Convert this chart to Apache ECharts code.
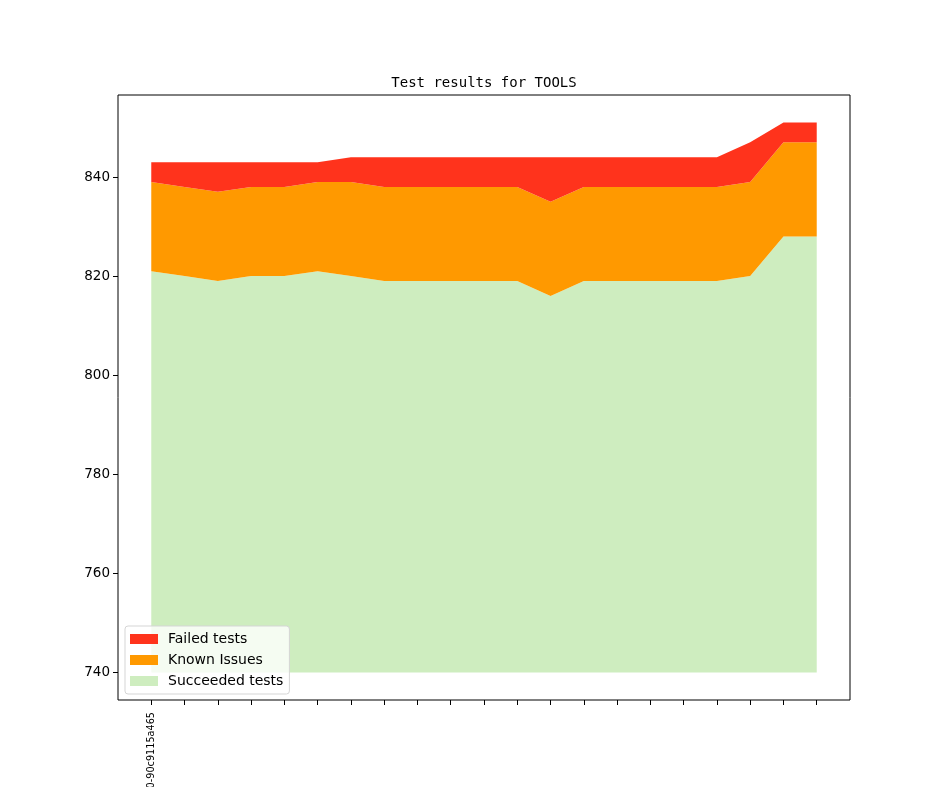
<!DOCTYPE html>
<html>
<head>
<meta charset="utf-8">
<title>Test results for TOOLS</title>
<script src="https://cdn.jsdelivr.net/npm/echarts@6/dist/echarts.min.js"></script>
<style>
html,body{margin:0;padding:0;background:#fff;}
#chart{width:944px;height:787px;}
</style>
</head>
<body>
<div id="chart"></div>
<script>
//数据
var builds = ['2017.10.10-90c9115a465','','','','','','','','','','','','','','','','','','','',''];
var succeeded = [821,820,819,820,820,821,820,819,819,819,819,819,816,819,819,819,819,819,820,828,828];
var known = [18,18,18,18,18,18,19,19,19,19,19,19,19,19,19,19,19,19,19,19,19];
var failed = [4,5,6,5,5,4,5,6,6,6,6,6,9,6,6,6,6,6,8,4,4];
var yTicks = [740,760,780,800,820,840];
var areaBase = 740;

//两端各留一个空位,相当于matplotlib的边距
var cats = ['<pad0>'].concat(builds.map(function(b,i){return i+':'+b;})).concat(['<pad1>']);
function pad(arr){
	return ['-'].concat(arr).concat(['-']);
}
function isPad(idx){
	return idx==0 || idx==cats.length-1;
}

//一层面积
function layer(name,data,color,extra){
	var s = {
		name:name, type:'line', stack:'total', data:pad(data),
		symbol:'none', lineStyle:{width:0}, color:color,
		areaStyle:{color:color,opacity:1}
	};
	if(extra){ s.areaStyle.origin = extra; }
	return s;
}

var chart = echarts.init(document.getElementById('chart'));
var option = {
	animation:false,
	title:{
		text:'Test results for TOOLS',
		left:479, top:71, textAlign:'center',
		textStyle:{fontFamily:'DejaVu Sans Mono',fontSize:14,fontWeight:'normal',color:'#000'}
	},
	legend:{
		orient:'vertical',
		left:125, top:626,
		itemWidth:28, itemHeight:10, itemGap:7,
		padding:[6,6,6,5],
		backgroundColor:'rgba(255,255,255,0.8)',
		borderColor:'#d5d5d5', borderWidth:1, borderRadius:3,
		textStyle:{fontFamily:'DejaVu Sans',fontSize:14,color:'#000',padding:[0,0,0,5]},
		data:[
			{name:'Failed tests',icon:'rect'},
			{name:'Known Issues',icon:'rect'},
			{name:'Succeeded tests',icon:'rect'}
		]
	},
	grid:{left:118,right:94,top:95,bottom:87,outerBoundsMode:'none',containLabel:false,show:true,borderColor:'#000',borderWidth:1,backgroundColor:'transparent'},
	xAxis:{
		type:'category', data:cats, boundaryGap:false,
		axisLine:{show:false,onZero:false},
		splitLine:{show:false},
		axisTick:{show:true,length:5,lineStyle:{color:'#000'},
			interval:function(idx){ return !isPad(idx); }},
		axisLabel:{
			show:true, rotate:90, fontSize:9.7, fontFamily:'DejaVu Sans', color:'#000', margin:12,
			interval:0, hideOverlap:false,
			formatter:function(v){ return v.charAt(0)=='<' ? '' : v.substring(v.indexOf(':')+1); }
		}
	},
	yAxis:{
		type:'value', min:734.45, max:856.55,
		axisLine:{show:false,onZero:false},
		splitLine:{show:false},
		axisTick:{show:true,length:5,lineStyle:{color:'#000'},customValues:yTicks},
		axisLabel:{show:true,fontSize:13.5,fontFamily:'DejaVu Sans',color:'#000',margin:8,customValues:yTicks}
	},
	series:[
		layer('Succeeded tests',succeeded,'#ceedbf',areaBase),
		layer('Known Issues',known,'#ff9900'),
		layer('Failed tests',failed,'#ff331c')
	]
};
chart.setOption(option);
</script>
</body>
</html>
